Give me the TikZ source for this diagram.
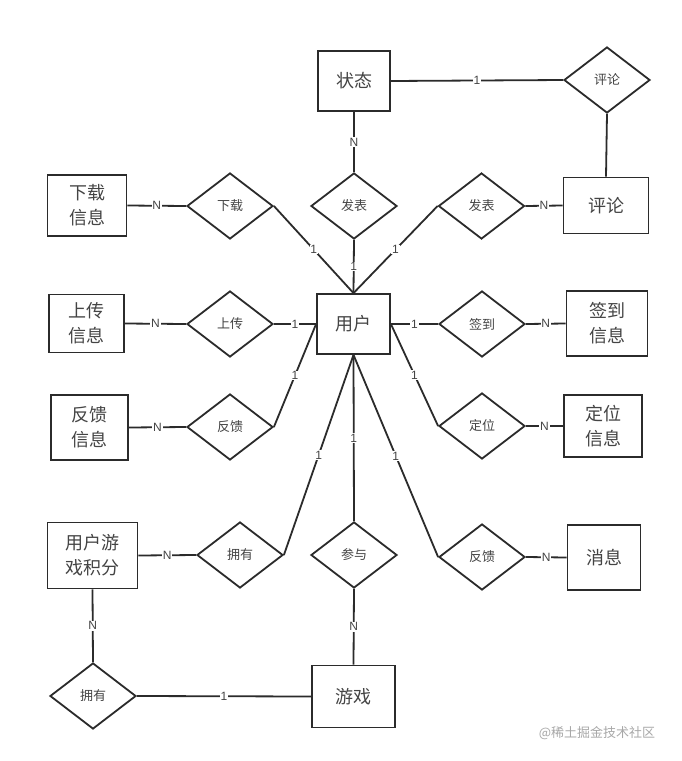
\documentclass[tikz,border=0pt]{standalone}
\usepackage{fontspec}
\setmainfont{Noto Sans CJK SC}
\newfontfamily\lblfont{Liberation Sans}
\usetikzlibrary{shapes.geometric}
\definecolor{ink}{HTML}{2B2B2B}
\definecolor{txt}{HTML}{444444}
\definecolor{wm}{HTML}{A8A8A8}
\tikzset{
  ent/.style={draw=ink, line width=1.8pt, rectangle, inner sep=0pt, text=txt,
    font=\fontsize{18}{25}\selectfont, align=center},
  rel/.style={draw=ink, line width=1.8pt, diamond, inner sep=0pt, text=txt,
    minimum width=86pt, minimum height=66pt, font=\fontsize{13}{15}\selectfont},
  conn/.style={draw=ink, line width=1.8pt},
  card/.style={fill=white, inner sep=0.8pt, text=txt, font=\lblfont\fontsize{12}{13}\selectfont},
}
\begin{document}
\begin{tikzpicture}[x=1pt,y=-1pt]
\useasboundingbox (0,0) rectangle (682,761);
\fill[white] (0,0) rectangle (682,761);
% entities
\node[ent, minimum width=72pt, minimum height=60pt] (zt) at (354,81) {状态};
\node[ent, minimum width=85pt, minimum height=56pt] (plb) at (606,205.5) {评论};
\node[ent, minimum width=79pt, minimum height=61pt] (xzxx) at (87,205.5) {下载\\信息};
\node[ent, minimum width=75pt, minimum height=58pt] (scxx) at (86.5,323.5) {上传\\信息};
\node[ent, minimum width=73pt, minimum height=60pt] (yh) at (353.5,324) {用户};
\node[ent, minimum width=77pt, minimum height=65pt] (fkxx) at (89.5,427.5) {反馈\\信息};
\node[ent, minimum width=81pt, minimum height=65pt] (qdxx) at (607,323.5) {签到\\信息};
\node[ent, minimum width=78pt, minimum height=62pt] (dwxx) at (603,426) {定位\\信息};
\node[ent, minimum width=73pt, minimum height=65pt] (xx) at (604,557.5) {消息};
\node[ent, minimum width=90pt, minimum height=66pt] (jf) at (92.5,555.5) {用户游\\戏积分};
\node[ent, minimum width=83pt, minimum height=62pt] (yx) at (353.5,696.5) {游戏};
% relationships
\node[rel] (plr) at (607,80) {评论};
\node[rel] (fbm) at (354,206) {发表};
\node[rel] (fbr) at (481.5,206) {发表};
\node[rel] (xz) at (230,206) {下载};
\node[rel] (sc) at (230,324) {上传};
\node[rel] (fkl) at (230,427) {反馈};
\node[rel] (qd) at (482,324) {签到};
\node[rel] (dw) at (482,426) {定位};
\node[rel] (fkr) at (482,557) {反馈};
\node[rel] (yyt) at (240,555) {拥有};
\node[rel] (cy) at (354,555) {参与};
\node[rel] (yyb) at (93,696) {拥有};
% connectors
\draw[conn] (zt.east) -- node[card]{1} (plr.west);
\draw[conn] (plr.south) -- (plb.north);
\draw[conn] (zt.south) -- node[card]{N} (fbm.north);
\draw[conn] (fbr.east) -- node[card]{N} (plb.west);
\draw[conn] (xzxx.east) -- node[card]{N} (xz.west);
\draw[conn] (xz.east) -- node[card]{1} (yh.north);
\draw[conn] (fbm.south) -- node[card]{1} (yh.north);
\draw[conn] (fbr.west) -- node[card]{1} (yh.north);
\draw[conn] (scxx.east) -- node[card]{N} (sc.west);
\draw[conn] (sc.east) -- node[card]{1} (yh.west);
\draw[conn] (fkxx.east) -- node[card]{N} (fkl.west);
\draw[conn] (fkl.east) -- node[card]{1} (yh.west);
\draw[conn] (yh.east) -- node[card]{1} (qd.west);
\draw[conn] (qd.east) -- node[card]{N} (qdxx.west);
\draw[conn] (yh.east) -- node[card]{1} (dw.west);
\draw[conn] (dw.east) -- node[card]{N} (dwxx.west);
\draw[conn] (yh.south) -- node[card]{1} (fkr.west);
\draw[conn] (fkr.east) -- node[card]{N} (xx.west);
\draw[conn] (yh.south) -- node[card]{1} (cy.north);
\draw[conn] (yh.south) -- node[card]{1} (yyt.east);
\draw[conn] (yyt.west) -- node[card]{N} (jf.east);
\draw[conn] (cy.south) -- node[card]{N} (yx.north);
\draw[conn] (jf.south) -- node[card]{N} (yyb.north);
\draw[conn] (yyb.east) -- node[card]{1} (yx.west);
% watermark
\node[text=wm, font=\fontsize{13}{15}\selectfont, inner sep=0pt] (wmk) at (597,733) {@稀土掘金技术社区};
\end{tikzpicture}
\end{document}
